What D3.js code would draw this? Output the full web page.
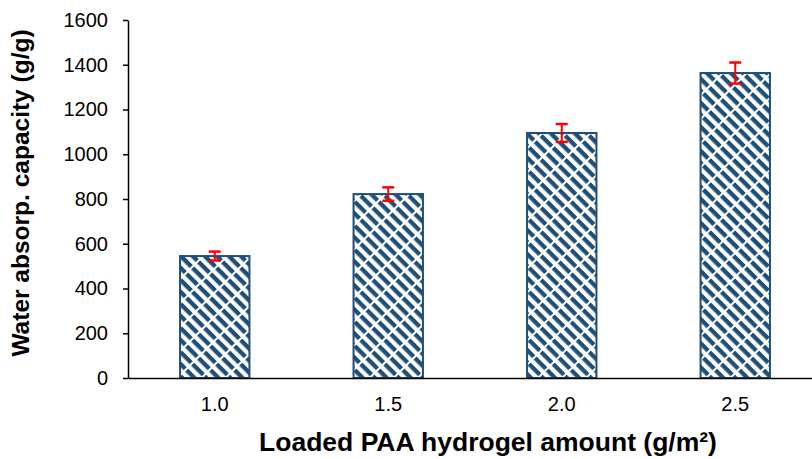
<!DOCTYPE html>
<html><head><meta charset="utf-8">
<script src="https://cdn.jsdelivr.net/npm/d3@7"></script>
<style>body{margin:0;background:#fff;} svg{display:block;}</style>
</head><body>
<svg id="c" width="812" height="459"></svg>
<script>
const categories = ["1.0", "1.5", "2.0", "2.5"];
const values = [545, 822, 1095, 1363];
const errors = [20, 30, 40, 47];
const yTicks = [0, 200, 400, 600, 800, 1000, 1200, 1400, 1600];
const xTitle = "Loaded PAA hydrogel amount (g/m²)";
const yTitle = "Water absorp. capacity (g/g)";

const svg = d3.select("#c");
const m = {left: 128, top: 20, right: -10, bottom: 81};
const W = 812 - m.left - m.right, H = 459 - m.top - m.bottom;
const navy = "#1F4E79";
const font = "Liberation Sans, Arial, sans-serif";

const defs = svg.append("defs");
const pat = defs.append("pattern").attr("id", "hatch").attr("patternUnits", "userSpaceOnUse")
  .attr("width", 17).attr("height", 8.5).attr("patternTransform", "rotate(45)");
pat.append("rect").attr("width", 17).attr("height", 8.5).attr("fill", "#fff");
pat.append("rect").attr("x", 0).attr("y", 0).attr("width", 15).attr("height", 4.3).attr("fill", navy);

const g = svg.append("g").attr("transform", `translate(${m.left},${m.top})`);
const x = d3.scaleBand().domain(categories).range([0, W]).paddingInner(0.6).paddingOuter(0.3);
const y = d3.scaleLinear().domain([0, 1600]).range([H, 0]);

g.selectAll("rect.bar").data(values).join("rect").attr("class", "bar")
  .attr("x", (d, i) => x(categories[i])).attr("width", x.bandwidth())
  .attr("y", d => y(d)).attr("height", d => H - y(d))
  .attr("fill", "url(#hatch)").attr("stroke", navy).attr("stroke-width", 2);

const eg = g.selectAll("g.err").data(values).join("g").attr("class", "err")
  .attr("transform", (d, i) => `translate(${x(categories[i]) + x.bandwidth() / 2},0)`);
eg.append("line").attr("y1", (d, i) => y(d + errors[i])).attr("y2", (d, i) => y(d - errors[i]))
  .attr("stroke", "#FF0000").attr("stroke-width", 2);
eg.append("line").attr("x1", -6).attr("x2", 6).attr("y1", (d, i) => y(d + errors[i])).attr("y2", (d, i) => y(d + errors[i]))
  .attr("stroke", "#FF0000").attr("stroke-width", 2.5);
eg.append("line").attr("x1", -6).attr("x2", 6).attr("y1", (d, i) => y(d - errors[i])).attr("y2", (d, i) => y(d - errors[i]))
  .attr("stroke", "#FF0000").attr("stroke-width", 2.5);

const ya = g.append("g").call(d3.axisLeft(y).tickValues(yTicks).tickFormat(d3.format("d")).tickSize(5).tickPadding(15).tickSizeOuter(0));
ya.select(".domain").attr("stroke", "#000").attr("stroke-width", 1.5);
ya.selectAll(".tick line").attr("stroke", "#000").attr("stroke-width", 1.5);
ya.selectAll("text").attr("font-family", font).attr("font-size", 20).attr("fill", "#000");

const xa = g.append("g").attr("transform", `translate(0,${H})`).call(d3.axisBottom(x).tickSize(0).tickPadding(19));
xa.select(".domain").attr("stroke", "#000").attr("stroke-width", 1.5);
xa.selectAll("text").attr("font-family", font).attr("font-size", 20).attr("fill", "#000");

svg.append("text").attr("x", 488).attr("y", 451).attr("text-anchor", "middle")
  .attr("font-family", font).attr("font-size", 26.5).attr("font-weight", "bold")
  .text(xTitle);
svg.append("text").attr("transform", "translate(29,193) rotate(-90)").attr("text-anchor", "middle")
  .attr("font-family", font).attr("font-size", 24.5).attr("font-weight", "bold")
  .text(yTitle);
</script>
</body></html>
